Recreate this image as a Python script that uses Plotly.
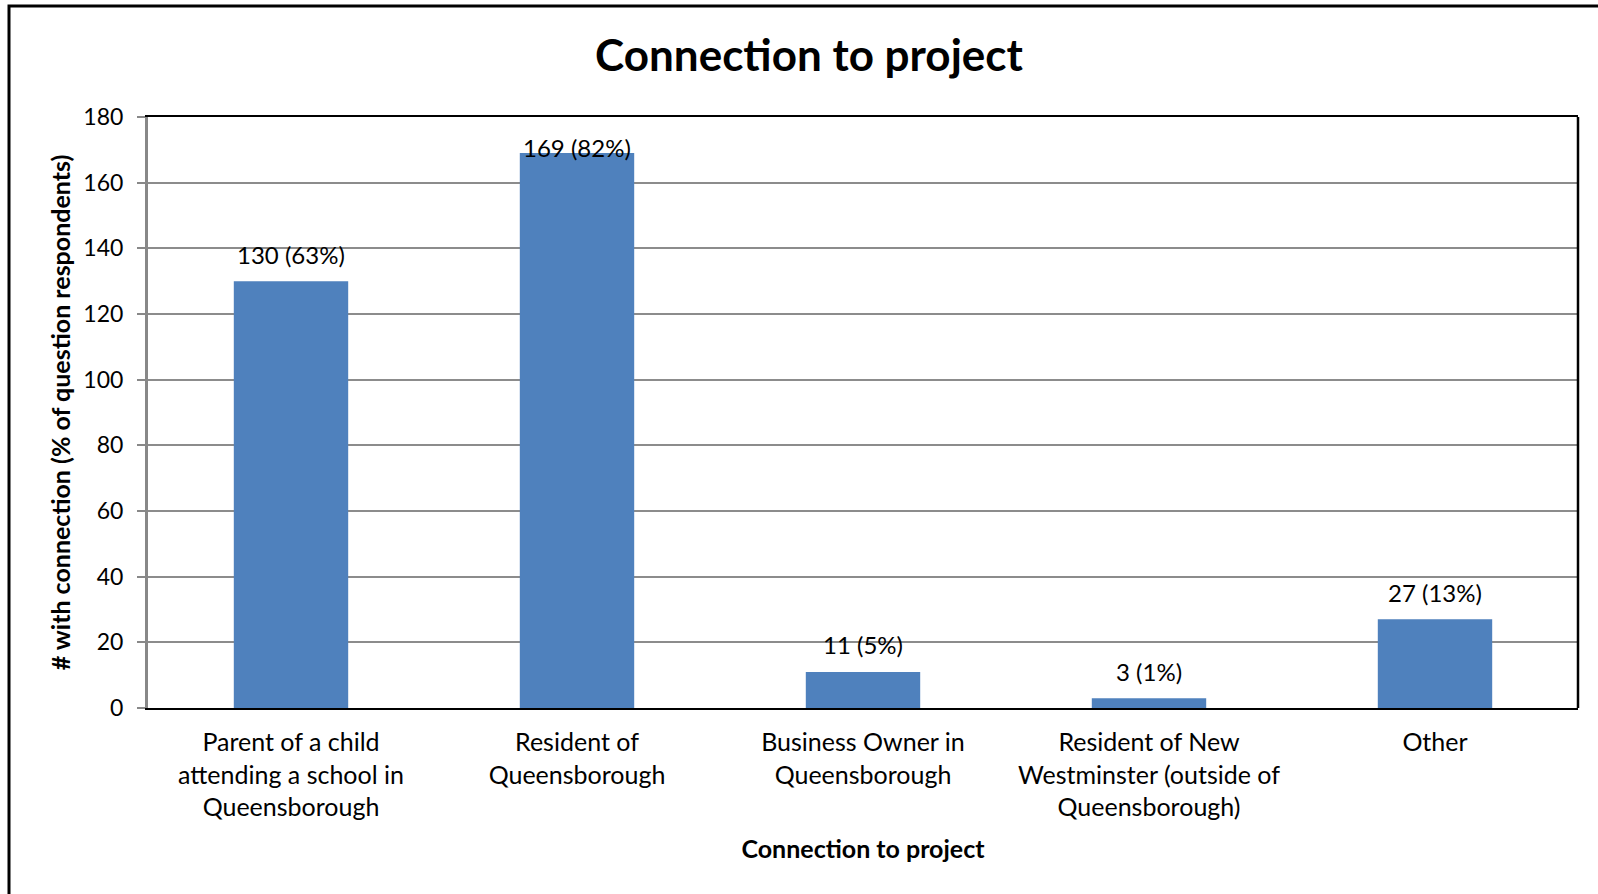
import plotly.graph_objects as go

categories = [
    "Parent of a child<br>attending a school in<br>Queensborough",
    "Resident of<br>Queensborough",
    "Business Owner in<br>Queensborough",
    "Resident of New<br>Westminster (outside of<br>Queensborough)",
    "Other",
]
counts = [130, 169, 11, 3, 27]
percents = [63, 82, 5, 1, 13]
y_ticks = [0, 20, 40, 60, 80, 100, 120, 140, 160, 180]

FONT = "Lato"
W, H = 1598, 894
ml, mr, mt, mb = 148, 20, 117, 186
ymax = 180
ppu = (H - mt - mb) / ymax

fig = go.Figure()
fig.add_trace(go.Bar(
    x=categories, y=counts, marker_color="#4F81BD", width=0.4,
    marker_line_width=0, showlegend=False, hoverinfo="skip",
))

for c, v, p in zip(categories, counts, percents):
    ly = min(v + 27 / ppu, ymax - 30 / ppu)
    fig.add_annotation(x=c, y=ly, xref="x", yref="y", text=f"{v} ({p}%)",
                       showarrow=False, yanchor="middle",
                       font=dict(family=FONT, size=24, color="black"))

fig.update_layout(
    width=W, height=H,
    margin=dict(l=ml, r=mr, t=mt, b=mb),
    paper_bgcolor="white", plot_bgcolor="white",
    font=dict(family=FONT, color="black"),
    title=dict(text="<b>Connection to project</b>", x=809 / W, xanchor="center",
               y=1 - 56 / H, yanchor="middle",
               font=dict(family=FONT, size=44, color="black")),
    xaxis=dict(
        range=[-0.5, 4.5], showline=True, linecolor="black", linewidth=2, mirror=True,
        ticks="outside", ticklen=11, tickcolor="rgba(0,0,0,0)",
        tickfont=dict(family=FONT, size=25, color="black"),
        title=dict(text="<b>Connection to project</b>", standoff=20,
                   font=dict(family=FONT, size=25, color="black")),
        showgrid=False,
    ),
    yaxis=dict(
        range=[0, ymax], tickvals=y_ticks, showline=True, linecolor="#888888", linewidth=3,
        ticks="outside", ticklen=8, tickcolor="#888888", tickwidth=2,
        ticklabelstandoff=9,
        tickfont=dict(family=FONT, size=23, color="black"),
        showgrid=True, gridcolor="#8c8c8c", gridwidth=1.5,
        title=dict(text="<b># with connection (% of question respondents)</b>", standoff=6,
                   font=dict(family=FONT, size=25, color="black")),
        zeroline=False,
    ),
    bargap=0.6,
)

# right border of plot area
fig.add_shape(type="line", xref="paper", yref="paper", x0=1, x1=1, y0=0, y1=1,
              line=dict(color="black", width=2.5))
# outer chart border (extends beyond the visible canvas on right/bottom)
fig.add_shape(type="rect", xref="paper", yref="paper",
              x0=-(ml - 9) / (W - ml - mr), x1=1.1,
              y0=-0.5, y1=1 + (mt - 6) / (H - mt - mb),
              line=dict(color="black", width=3), layer="below")

fig.write_html("out.html", config={"displayModeBar": False},
               post_script="document.body.style.margin='0';document.body.style.overflow='hidden';")
